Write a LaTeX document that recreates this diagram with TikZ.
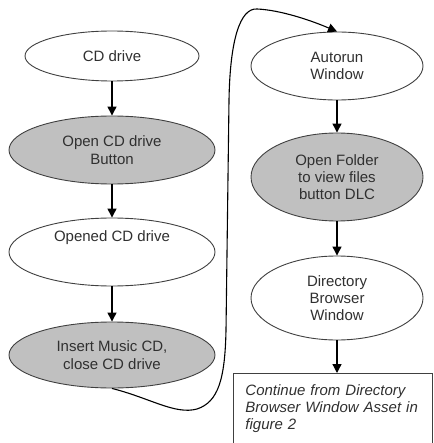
\documentclass[tikz,border=0pt]{standalone}
\usepackage{fontspec}
\setmainfont{Liberation Sans}
\usetikzlibrary{shapes.geometric,arrows.meta}
\definecolor{fillg}{HTML}{C0C0C0}
\definecolor{edge}{HTML}{404040}
\definecolor{txt}{HTML}{303030}
\begin{document}
\begin{tikzpicture}[x=1pt,y=-1pt,
  ell/.style={ellipse, draw=edge, line width=0.9pt, inner sep=0pt, text=txt, align=center, font=\fontsize{15}{17.3}\selectfont},
  wf/.style={ell, fill=white},
  gf/.style={ell, fill=fillg},
  arr/.style={line width=1.3pt, -{Triangle[length=9pt,width=9pt]}}]
\useasboundingbox (0,0) rectangle (433,443);
% left column
\node[wf, minimum width=174pt, minimum height=50pt] (cd) at (112,56) {CD drive};
\node[gf, minimum width=206pt, minimum height=68pt] (ocd) at (112,150) {Open CD drive\\Button};
\node[wf, minimum width=206pt, minimum height=68pt] (opened) at (112,252) {};
\node[text=txt, font=\fontsize{15}{17.3}\selectfont] (openedt) at (112,238) {Opened CD drive};
\node[gf, minimum width=206pt, minimum height=66pt] (ins) at (112,355) {Insert Music CD,\\close CD drive};
% right column
\node[wf, minimum width=172pt, minimum height=68pt] (aut) at (337,66) {Autorun\\Window};
\node[gf, minimum width=172pt, minimum height=88pt] (fold) at (337,177) {Open Folder\\to view files\\button DLC};
\node[wf, minimum width=172pt, minimum height=84pt] (dir) at (337,298) {Directory\\Browser\\Window};
\node[draw=edge, line width=0.9pt, minimum width=199pt, minimum height=70pt, inner xsep=12pt, inner ysep=0pt,
      text width=175pt, align=left, anchor=north west, text=txt, font=\fontsize{15}{17.3}\selectfont\itshape] (cont) at (233,373)
      {Continue from Directory\\Browser Window Asset in\\figure 2};
% arrows
\draw[arr] (cd.south) -- (ocd.north);
\draw[arr] (ocd.south) -- (opened.north);
\draw[arr] (opened.south) -- (ins.north);
\draw[arr] (aut.south) -- (fold.north);
\draw[arr] (fold.south) -- (dir.north);
\draw[arr] (dir.south) -- (cont.north -| dir.south);
\draw[line width=1.1pt, -{Triangle[length=9pt,width=9pt]}] (ins.south)
  .. controls (150,398) and (175,415) .. (197,409)
  .. controls (218,402) and (225,380) .. (226,330)
  -- (229,100)
  .. controls (230,40) and (240,8) .. (257,9)
  .. controls (280,10) and (310,20) .. (aut.north);
\end{tikzpicture}
\end{document}
